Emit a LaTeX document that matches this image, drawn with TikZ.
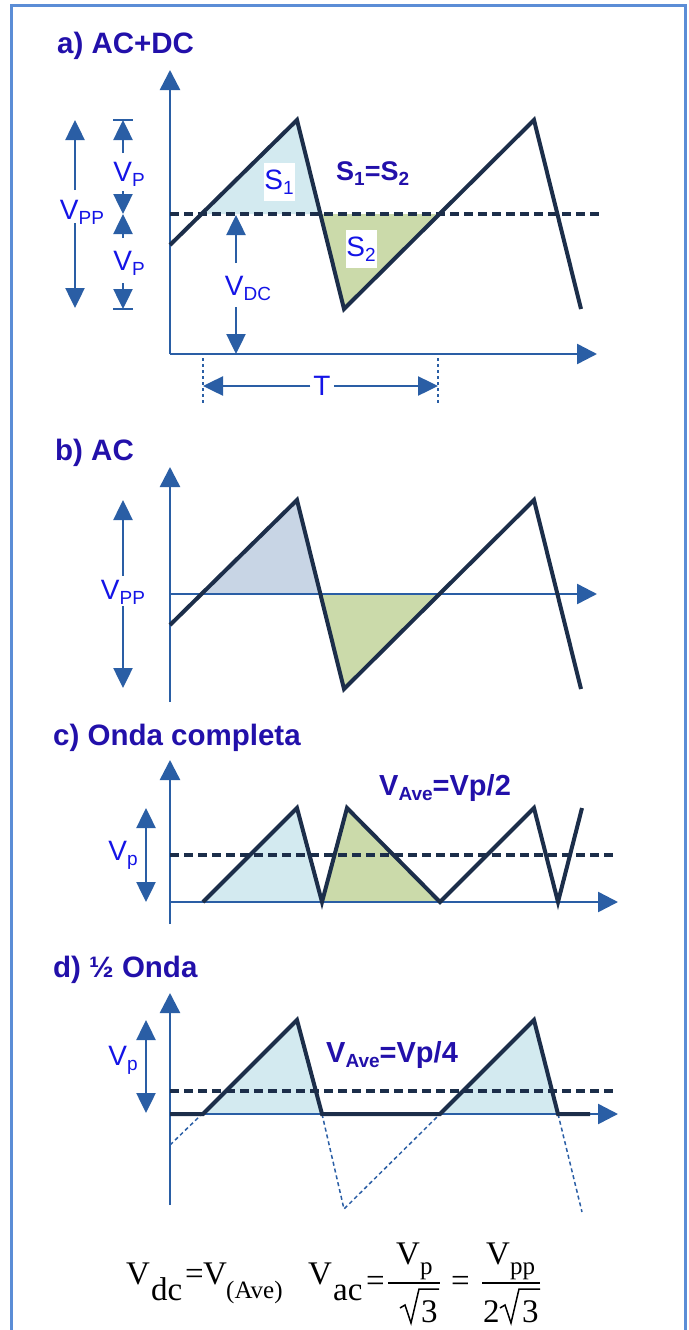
\documentclass[tikz,border=0pt]{standalone}
\usepackage{fontspec}
\setmainfont{Liberation Sans}
\newfontfamily\eqfont{Liberation Serif}
\usetikzlibrary{arrows.meta}
\definecolor{axisblue}{RGB}{42,94,165}
\definecolor{wavecol}{RGB}{28,46,74}
\definecolor{lblue}{RGB}{20,20,230}
\definecolor{ttlcol}{RGB}{34,16,170}
\definecolor{fillblue}{RGB}{211,234,240}
\definecolor{fillgreen}{RGB}{203,218,170}
\definecolor{fillgrey}{RGB}{200,213,229}
\definecolor{framecol}{RGB}{91,141,214}
\newcommand\sbs[1]{\lower5pt\hbox{\fontsize{19}{19}\selectfont #1}}
\newcommand\bsbs[1]{\lower5pt\hbox{\fontsize{19}{19}\selectfont\bfseries #1}}
\begin{document}
\begin{tikzpicture}[x=1pt,y=-1pt,
  axis/.style={draw=axisblue,line width=2.5pt,-{Triangle[length=20pt,width=20pt]}},
  dimarr/.style={draw=axisblue,line width=2.5pt,-{Triangle[length=20pt,width=19pt]}},
  dimboth/.style={draw=axisblue,line width=2.5pt,{Triangle[length=20pt,width=19pt]}-{Triangle[length=20pt,width=19pt]}},
  dimbar/.style={draw=axisblue,line width=2.5pt},
  tline/.style={draw=axisblue,line width=1.5pt,dash pattern=on 3pt off 3pt},
  wave/.style={draw=wavecol,line width=4pt,line join=miter},
  avg/.style={draw=wavecol,line width=4pt,dash pattern=on 9pt off 5pt},
  ghost/.style={draw=axisblue,line width=1.5pt,dash pattern=on 4pt off 3pt},
  lab/.style={text=lblue,font=\fontsize{28}{28}\selectfont,inner sep=0pt},
  ttl/.style={text=ttlcol,font=\fontsize{29.5}{29.5}\selectfont\bfseries,anchor=base west,inner sep=0pt},
  eq/.style={font=\eqfont\fontsize{33}{33}\selectfont,anchor=base west,inner sep=0pt},
  eqs/.style={font=\eqfont\fontsize{25}{25}\selectfont,anchor=base west,inner sep=0pt},
  sbox/.style={fill=white,minimum width=31pt,minimum height=38pt,inner sep=0pt,text=lblue,font=\fontsize{28}{28}\selectfont}
]
\useasboundingbox (0,0) rectangle (688,1330);
\clip (0,0) rectangle (688,1330);
\draw[framecol,line width=3pt] (11,6) rectangle (685,1345);

% ================= panel a =================
\node[ttl] (ta) at (57,54) {a) AC+DC};
\fill[fillblue] (202,214) -- (297,120) -- (320,214) -- cycle;
\fill[fillgreen] (320,214) -- (344,309) -- (439,214) -- cycle;
\coordinate (ao) at (170,354);
\coordinate (ay) at (170,70);
\coordinate (ax) at (597,354);
\draw[axis] (ao) -- (ay);
\draw[axis] (ao) -- (ax);
\draw[avg] (170,214) -- (601,214);
\draw[wave] (170,245) -- (297,120) -- (344,309) -- (534,120) -- (581,309);
\node[sbox] (s1) at (279,182) {S\sbs{1}};
\node[sbox] (s2) at (361,249) {S\sbs{2}};
\node[text=ttlcol,font=\fontsize{27}{27}\selectfont\bfseries,anchor=base west,inner sep=0pt] (seq) at (336,180) {S\bsbs{1}=S\bsbs{2}};
% Vpp
\node[lab] (vppa) at (82,212) {V\sbs{PP}};
\coordinate (vppaT) at (75,120);
\coordinate (vppaU) at (75,190);
\coordinate (vppaL) at (75,223);
\coordinate (vppaB) at (75,308);
\draw[dimarr] (vppaU) -- (vppaT);
\draw[dimarr] (vppaL) -- (vppaB);
% Vp
\draw[dimbar] (113,120) -- (133,120);
\draw[dimbar] (113,309) -- (133,309);
\node[lab] (vp1) at (129,174) {V\sbs{P}};
\node[lab] (vp2) at (129,263) {V\sbs{P}};
\coordinate (vpT) at (123,120);
\coordinate (vpM) at (123,214);
\coordinate (vpB) at (123,309);
\coordinate (vp1a) at (123,153);
\coordinate (vp1b) at (123,191);
\coordinate (vp2a) at (123,238);
\coordinate (vp2b) at (123,283);
\draw[dimarr] (vp1a) -- (vpT);
\draw[dimarr] (vp1b) -- (vpM);
\draw[dimarr] (vp2a) -- (vpM);
\draw[dimarr] (vp2b) -- (vpB);
% Vdc
\node[lab] (vdc) at (248,288) {V\sbs{DC}};
\coordinate (vdcT) at (236,215);
\coordinate (vdcU) at (236,263);
\coordinate (vdcL) at (236,307);
\coordinate (vdcB) at (236,354);
\draw[dimarr] (vdcU) -- (vdcT);
\draw[dimarr] (vdcL) -- (vdcB);
% T
\draw[tline] (203,358) -- (203,404);
\draw[tline] (438,358) -- (438,404);
\node[lab] (tlab) at (322,386) {T};
\coordinate (tL) at (203,386);
\coordinate (tR) at (438,386);
\draw[dimarr] (tlab.west) ++(-3,0) -- (tL);
\draw[dimarr] (tlab.east) ++(3,0) -- (tR);

% ================= panel b =================
\node[ttl] (tb) at (55,460) {b) AC};
\fill[fillgrey] (202,594) -- (297,500) -- (320,594) -- cycle;
\fill[fillgreen] (320,594) -- (344,689) -- (439,594) -- cycle;
\coordinate (bo) at (170,702);
\coordinate (by) at (170,467);
\coordinate (bxs) at (170,594);
\coordinate (bx) at (597,594);
\draw[axis] (bo) -- (by);
\draw[axis] (bxs) -- (bx);
\draw[wave] (170,625) -- (297,500) -- (344,689) -- (534,500) -- (581,689);
\node[lab] (vppb) at (123,592) {V\sbs{PP}};
\coordinate (vppbT) at (123,500);
\coordinate (vppbB) at (123,688);
\draw[dimarr] (vppb.north) ++(0,-4) -- (vppbT);
\draw[dimarr] (vppb.south) ++(0,2) -- (vppbB);

% ================= panel c =================
\node[ttl] (tc) at (53,745) {c) Onda completa};
\fill[fillblue] (203,902) -- (297,808) -- (322,902) -- cycle;
\fill[fillgreen] (322,902) -- (347,808) -- (440,902) -- cycle;
\coordinate (co) at (170,924);
\coordinate (cy) at (170,760);
\coordinate (cxs) at (170,902);
\coordinate (cx) at (618,902);
\draw[axis] (co) -- (cy);
\draw[axis] (cxs) -- (cx);
\draw[avg] (170,855) -- (616,855);
\draw[wave] (203,902) -- (297,808) -- (322,902) -- (347,808) -- (440,902) -- (534,808) -- (558,902) -- (582,808);
\node[lab] (vpc) at (123,855) {V\sbs{p}};
\coordinate (vpcT) at (146,808);
\coordinate (vpcB) at (146,902);
\draw[dimboth] (vpcT) -- (vpcB);
\node[text=ttlcol,font=\fontsize{29}{29}\selectfont\bfseries,anchor=base west,inner sep=0pt] (avec) at (379,795) {V\bsbs{Ave}=Vp/2};

% ================= panel d =================
\node[ttl] (td) at (53,977) {d) \textonehalf\ Onda};
\fill[fillblue] (203,1114) -- (297,1020) -- (322,1114) -- cycle;
\fill[fillblue] (440,1114) -- (534,1020) -- (558,1114) -- cycle;
\coordinate (do) at (170,1205);
\coordinate (dy) at (170,993);
\coordinate (dxs) at (170,1114);
\coordinate (dx) at (618,1114);
\draw[axis] (do) -- (dy);
\draw[axis] (dxs) -- (dx);
\draw[avg] (170,1091) -- (616,1091);
\draw[ghost] (170,1145) -- (202,1114);
\draw[ghost] (322,1114) -- (344,1209) -- (440,1114);
\draw[ghost] (558,1114) -- (582,1212);
\draw[wave] (170,1114) -- (203,1114) -- (297,1020) -- (322,1114) -- (440,1114) -- (534,1020) -- (558,1114) -- (590,1114);
\node[lab] (vpd) at (123,1060) {V\sbs{p}};
\coordinate (vpdT) at (146,1020);
\coordinate (vpdB) at (146,1113);
\draw[dimboth] (vpdT) -- (vpdB);
\node[text=ttlcol,font=\fontsize{29}{29}\selectfont\bfseries,anchor=base west,inner sep=0pt] (aved) at (326,1062) {V\bsbs{Ave}=Vp/4};

% ================= formula =================
\node[eq] (f1) at (126,1284) {V};
\node[eq] (f2) at (151,1300) {dc};
\node[eq] (f3) at (185,1284) {=};
\node[eq] (f4) at (203,1284) {V};
\node[eqs] (f5) at (226,1298) {(Ave)};
\node[eq] (f6) at (308,1284) {V};
\node[eq] (f7) at (333,1300) {ac};
\node[eq] (f8) at (366,1291) {=};
\draw[line width=1.5pt] (388,1283) -- (440,1283);
\node[eq] (f9) at (396,1264) {V};
\node[eqs] (f10) at (420,1274) {p};
\draw[line width=1.5pt,line join=miter] (400,1308) -- (405,1305) -- (411,1323) -- (419,1289) -- (439,1289);
\node[eq] (f11) at (421,1322) {3};
\node[eq] (f12) at (451,1291) {=};
\draw[line width=1.5pt] (482,1283) -- (540,1283);
\node[eq] (f13) at (486,1264) {V};
\node[eqs] (f14) at (510,1274) {pp};
\node[eq] (f15) at (483,1322) {2};
\draw[line width=1.5pt,line join=miter] (500,1308) -- (505,1305) -- (511,1323) -- (519,1289) -- (540,1289);
\node[eq] (f16) at (522,1322) {3};
\end{tikzpicture}
\end{document}
